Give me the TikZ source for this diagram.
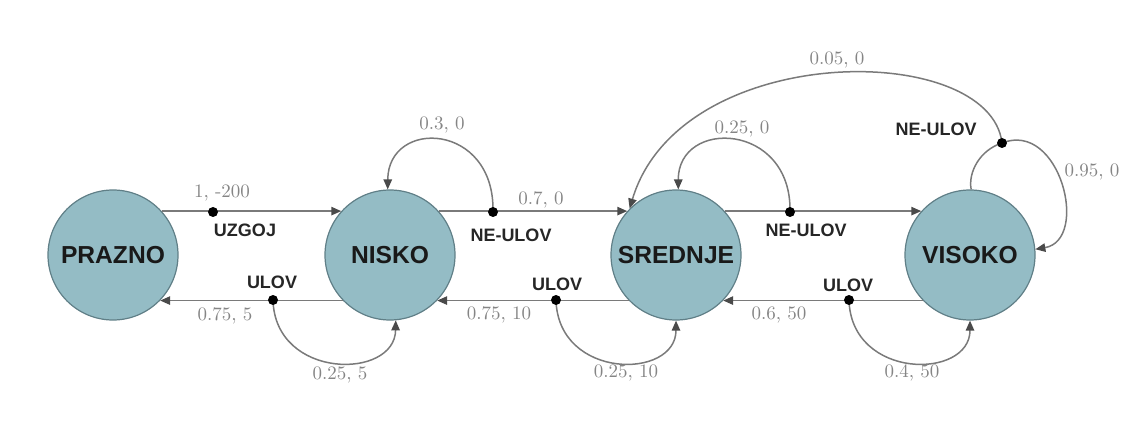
\documentclass[tikz,border=0pt]{standalone}
\usepackage{fontspec}
\newfontfamily\sansbold{Liberation Sans}
\usetikzlibrary{arrows.meta}
\definecolor{statefill}{HTML}{94BCC5}
\definecolor{stateborder}{HTML}{607F87}
\definecolor{edgegray}{HTML}{7A7A7A}
\definecolor{tipgray}{HTML}{4A4A4A}
\definecolor{numgray}{HTML}{858585}
\newcommand{\statefont}{\sansbold\bfseries\fontsize{12.3}{14}\selectfont}
\newcommand{\actfont}{\sansbold\bfseries\fontsize{9}{11}\selectfont}
\newcommand{\probfont}{\fontsize{9.5}{11}\selectfont}
\tikzstyle{state}=[circle, fill=statefill, draw=stateborder, line width=0.6pt, minimum size=65pt, inner sep=0pt, font=\statefont, text=black!90]
\tikzstyle{line}=[draw=edgegray, line width=0.75pt, -{Triangle[length=5pt,width=4.2pt,color=tipgray]}]
\tikzstyle{plain}=[draw=edgegray, line width=0.75pt]
\tikzstyle{act}=[font=\actfont, text=black!85]
\tikzstyle{prob}=[font=\probfont, text=numgray]

\begin{document}
\begin{tikzpicture}[x=0.5pt, y=-0.5pt]
  %\draw [help lines, step=50] (0,0) grid (1129,438);
  \useasboundingbox (0,0) rectangle (1129,438);

  \node[state] (prazno) at (113, 255) {PRAZNO};
  \node[state] (nisko) at (390, 255) {NISKO};
  \node[state] (srednje) at (676, 255) {SREDNJE};
  \node[state] (visoko) at (970, 255) {VISOKO};

  \coordinate (d1) at (213, 212);
  \coordinate (d2) at (273, 300);
  \coordinate (d3) at (493, 212);
  \coordinate (d4) at (556, 300);
  \coordinate (d5) at (790, 212);
  \coordinate (d6) at (849, 300);
  \coordinate (d7) at (1002, 143);

  % straight edges
  \draw[line] (prazno.42) -- (nisko.138);
  \draw[line] (nisko.224) -- (prazno.-44);
  \draw[line] (nisko.42) -- (srednje.138);
  \draw[line] (srednje.224) -- (nisko.-44);
  \draw[line] (srednje.42) -- (visoko.138);
  \draw[line] (visoko.224) -- (srednje.-44);

  % loops back to the same state
  \draw[line] (d2) .. controls (275,380) and (395,380) .. (nisko.-85);
  \draw[line] (d3) .. controls (495,122) and (388,118) .. (nisko.92);
  \draw[line] (d4) .. controls (558,380) and (676,380) .. (srednje.south);
  \draw[line] (d5) .. controls (792,122) and (678,118) .. (srednje.88);
  \draw[line] (d6) .. controls (851,380) and (970,380) .. (visoko.south);

  % ne-ulov from visoko
  \draw[plain] (visoko.89) .. controls (968,172) and (980,150) .. (d7);
  \draw[line] (d7) .. controls (990,40) and (680,40) .. (srednje.135);
  \draw[line] (d7) .. controls (1060,120) and (1090,240) .. (visoko.5);

  \foreach \d in {d1,d2,d3,d4,d5,d6,d7}
    \fill (\d) circle (2.5pt);

  \node[prob] (p1) at (222, 193) {1, -200};
  \node[act] (a1) at (245, 230) {UZGOJ};
  \node[act] (a2) at (272, 282) {ULOV};
  \node[prob] (p2) at (225, 316) {0.75, 5};
  \node[prob] (p3) at (340, 375) {0.25, 5};
  \node[prob] (p4) at (442, 125) {0.3, 0};
  \node[prob] (p5) at (541, 200) {0.7, 0};
  \node[act] (a3) at (511, 235) {NE-ULOV};
  \node[act] (a4) at (557, 284) {ULOV};
  \node[prob] (p6) at (499, 315) {0.75, 10};
  \node[prob] (p7) at (626, 373) {0.25, 10};
  \node[prob] (p8) at (742, 129) {0.25, 0};
  \node[act] (a5) at (806, 230) {NE-ULOV};
  \node[act] (a6) at (848, 285) {ULOV};
  \node[prob] (p9) at (779, 315) {0.6, 50};
  \node[prob] (p10) at (912, 373) {0.4, 50};
  \node[prob] (p11) at (837, 60) {0.05, 0};
  \node[act] (a7) at (936, 129) {NE-ULOV};
  \node[prob] (p12) at (1092, 172) {0.95, 0};

\end{tikzpicture}
\end{document}
